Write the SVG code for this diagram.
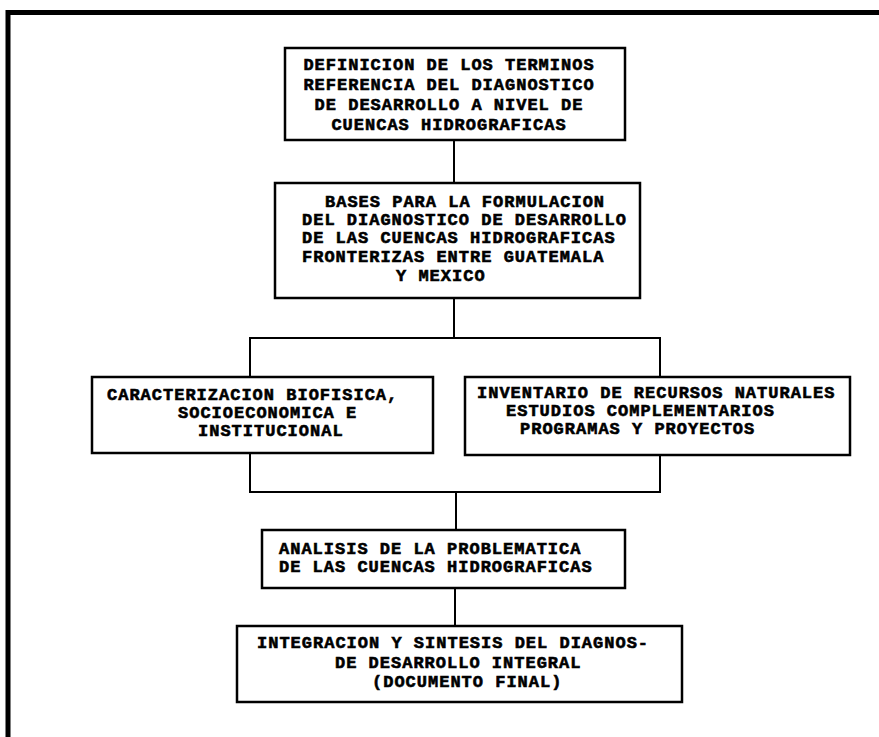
<svg xmlns="http://www.w3.org/2000/svg" width="879" height="737" viewBox="0 0 879 737">
<style>
.box{fill:#fff;stroke:#000;stroke-width:2.5}
.t{font-family:"Liberation Mono","Courier New",monospace;font-weight:bold;font-size:17px;letter-spacing:1px;fill:#000;stroke:#000;stroke-width:0.6}
.m{text-anchor:middle}
.c{fill:none;stroke:#000;stroke-width:2}
.frame{fill:none;stroke:#000;stroke-width:5}
</style>
<rect width="879" height="737" fill="#fff"/>
<path class="frame" d="M879,12.5 H8 V737"/>
<g id="connectors">
<path class="c" d="M454,140 V183"/>
<path class="c" d="M454,298 V338 M250,377 V338 H660 V377"/>
<path class="c" d="M250,453 V492 H660 V455 M456,492 V530"/>
<path class="c" d="M455,588 V626"/>
</g>
<g id="n1">
<rect class="box" x="285" y="48" width="340" height="92"/>
<text class="t m" x="449" y="70">DEFINICION DE LOS TERMINOS</text>
<text class="t m" x="449" y="90">REFERENCIA DEL DIAGNOSTICO</text>
<text class="t m" x="449" y="110">DE DESARROLLO A NIVEL DE</text>
<text class="t m" x="449" y="130">CUENCAS HIDROGRAFICAS</text>
</g>
<g id="n2">
<rect class="box" x="275" y="183" width="365" height="115"/>
<text class="t" x="325" y="207">BASES PARA LA FORMULACION</text>
<text class="t" x="302" y="225">DEL DIAGNOSTICO DE DESARROLLO</text>
<text class="t" x="302" y="243">DE LAS CUENCAS HIDROGRAFICAS</text>
<text class="t" x="302" y="262">FRONTERIZAS ENTRE GUATEMALA</text>
<text class="t" x="396" y="281">Y MEXICO</text>
</g>
<g id="n3">
<rect class="box" x="92" y="377" width="341" height="76"/>
<text class="t" x="107" y="400">CARACTERIZACION BIOFISICA,</text>
<text class="t" x="178" y="418">SOCIOECONOMICA  E</text>
<text class="t" x="198" y="436">INSTITUCIONAL</text>
</g>
<g id="n4">
<rect class="box" x="465" y="377" width="385" height="78"/>
<text class="t" x="477" y="398">INVENTARIO DE RECURSOS NATURALES</text>
<text class="t" x="506" y="416">ESTUDIOS COMPLEMENTARIOS</text>
<text class="t" x="520" y="434">PROGRAMAS Y PROYECTOS</text>
</g>
<g id="n5">
<rect class="box" x="262" y="530" width="363" height="58"/>
<text class="t" x="279" y="554">ANALISIS DE LA PROBLEMATICA</text>
<text class="t" x="279" y="572">DE LAS CUENCAS HIDROGRAFICAS</text>
</g>
<g id="n6">
<rect class="box" x="237" y="626" width="445" height="76"/>
<text class="t" x="257" y="648">INTEGRACION Y SINTESIS DEL DIAGNOS-</text>
<text class="t" x="335" y="668">DE DESARROLLO INTEGRAL</text>
<text class="t" x="372" y="687">(DOCUMENTO FINAL)</text>
</g>
</svg>
